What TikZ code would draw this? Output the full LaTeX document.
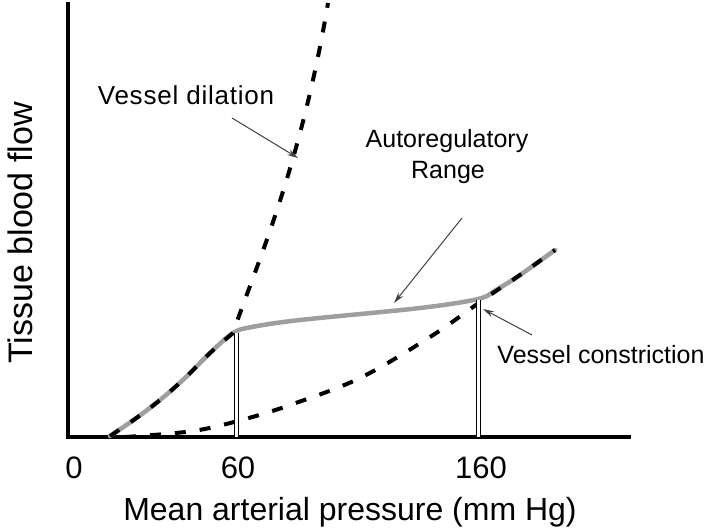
\documentclass[tikz,border=0pt]{standalone}
\usepackage{fontspec}
\setmainfont{Liberation Sans}
\newfontfamily\widesans[LetterSpace=3]{Liberation Sans}
\usetikzlibrary{arrows.meta}
\begin{document}
\begin{tikzpicture}[x=1pt,y=-1pt,
  axisline/.style={line width=3.6pt,line cap=rect},
  graycurve/.style={line width=4.5pt,color=black!38,line cap=round},
  dashcurve/.style={line width=4pt,dash pattern=on 11pt off 14pt},
  markline/.style={double,double distance=2.2pt,line width=1pt},
  pointer/.style={line width=1pt,color=black!75,-{Stealth[length=11pt,width=6pt]}},
  lbl/.style={font=\fontsize{25}{29}\selectfont,inner sep=0pt},
  ticklbl/.style={font=\fontsize{31}{35}\selectfont,inner sep=0pt,anchor=base},
  axislbl/.style={font=\fontsize{32}{36}\selectfont,inner sep=0pt,anchor=base}]
\useasboundingbox[fill=white] (0,0) rectangle (709,531);
% axes
\coordinate (O) at (68,437);
\coordinate (ytop) at (68,4);
\coordinate (xend) at (629,437);
\draw[axisline] (ytop) -- (O) -- (xend);
% gray autoregulation curve
\draw[graycurve] plot[smooth,tension=0.55] coordinates {(110,436) (135,419) (160,400) (185,378) (210,353) (233,333) (252,327) (300,320) (420,308) (478,299) (496,290) (520,275) (555,250)};
% vessel dilation curve
\draw[dashcurve] plot[smooth,tension=0.55] coordinates {(110,436) (135,419) (160,400) (185,378) (210,353) (233,333)}
  .. controls (255,268) and (300,170) .. (328,3);
% vessel constriction curve
\draw[dashcurve] plot[smooth,tension=0.6] coordinates {(125,437) (193,431) (245,419) (290,405) (360,378) (430,337) (473,307) (496,291) (520,275) (555,250)};
% vertical markers
\coordinate (m1top) at (236.5,333);
\coordinate (m1bot) at (236.5,437);
\coordinate (m2top) at (478.5,300);
\coordinate (m2bot) at (478.5,437);
\draw[markline] (m1top) -- (m1bot);
\draw[markline] (m2top) -- (m2bot);
% labels
\node[lbl,font=\fontsize{26}{30}\widesans] (dil) at (186,95) {Vessel dilation};
\node[lbl] (auto1) at (447,141) {Autoregulatory};
\node[lbl] (auto2) at (448,172) {Range};
\node[lbl] (con) at (601,355) {Vessel constriction};
\coordinate (dilS) at (232,118);
\coordinate (dilE) at (298,158);
\coordinate (autS) at (462,218);
\coordinate (autE) at (394,303);
\coordinate (conS) at (532,335);
\coordinate (conE) at (483,309);
\draw[pointer] (dilS) -- (dilE);
\draw[pointer] (autS) -- (autE);
\draw[pointer] (conS) -- (conE);
% ticks and axis labels
\node[ticklbl] (t0) at (74,478) {0};
\node[ticklbl] (t60) at (238,478) {60};
\node[ticklbl] (t160) at (481,478) {160};
\node[axislbl] (xl) at (350,520) {Mean arterial pressure (mm Hg)};
\node[axislbl,font=\fontsize{34}{38}\selectfont,rotate=90] (yl) at (32,233) {Tissue blood flow};
\end{tikzpicture}
\end{document}
